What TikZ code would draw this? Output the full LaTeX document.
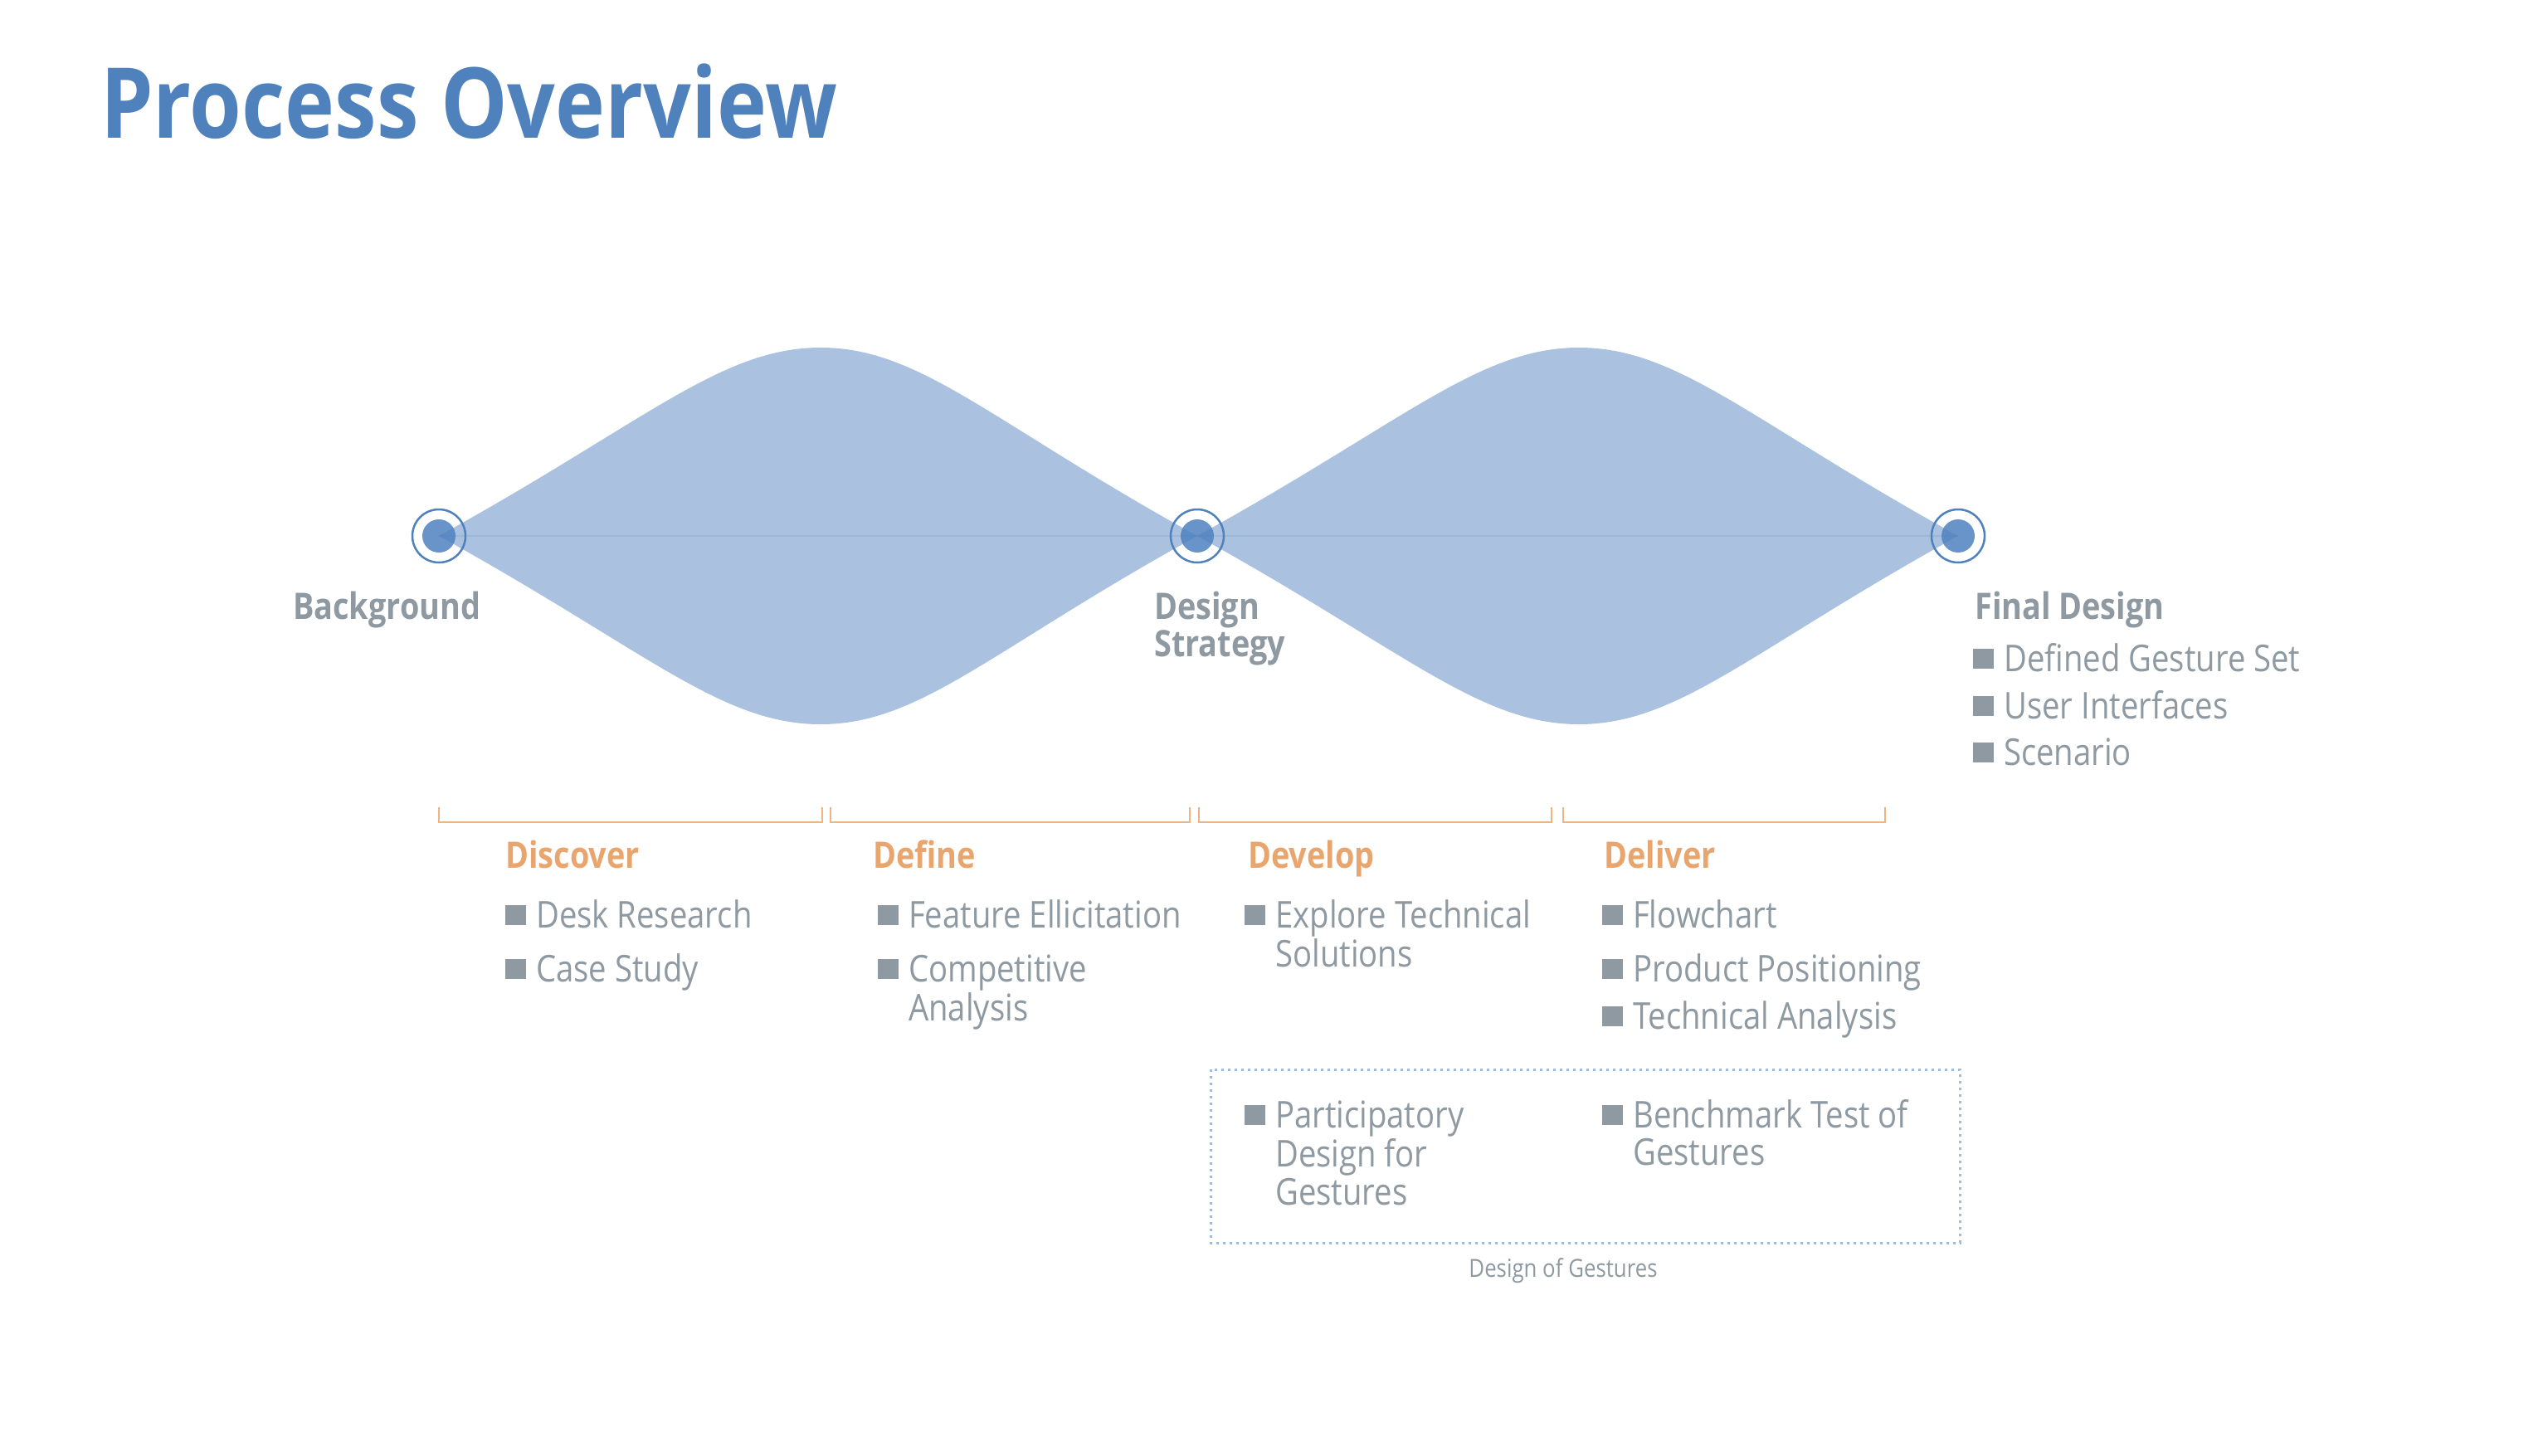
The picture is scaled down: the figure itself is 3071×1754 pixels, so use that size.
\documentclass[tikz,border=0pt]{standalone}
\usepackage{fontspec}
\setmainfont{Open Sans}[FakeStretch=0.86]
\definecolor{titleblue}{RGB}{79,129,189}
\definecolor{lensblue}{RGB}{79,129,189}
\definecolor{dotblue}{RGB}{104,148,201}
\definecolor{txtgray}{RGB}{142,153,161}
\definecolor{phaseorange}{RGB}{232,166,110}
\definecolor{bracketorange}{RGB}{238,180,130}
\definecolor{dotline}{RGB}{160,188,220}
\newcommand\sqbullet{\llap{\textcolor{txtgray}{\rule[0.06em]{0.55em}{0.55em}}\hspace{0.28em}}}
\newcommand\stack[1]{\begin{tabular}[t]{@{}l@{}}#1\end{tabular}}
\tikzset{
  ring/.style={circle, draw=titleblue, line width=2.5pt, minimum size=64pt, inner sep=0pt},
  dot/.style={circle, fill=dotblue, minimum size=40pt, inner sep=0pt},
  lens/.style={fill=lensblue, fill opacity=0.48},
  stagelabel/.style={anchor=base west, inner sep=0pt, text=txtgray, font=\fontsize{44}{45}\selectfont\bfseries},
  phase/.style={anchor=base west, inner sep=0pt, text=phaseorange, font=\fontsize{44}{45}\selectfont\bfseries},
  item/.style={anchor=base west, inner sep=0pt, text=txtgray, font=\fontsize{44.5}{45}\selectfont},
  bracket/.style={draw=bracketorange, line width=2.5pt},
}
\begin{document}
\begin{tikzpicture}[x=1pt,y=-1pt]
\useasboundingbox[fill=white] (0,0) rectangle (3071,1754);

% title
\node[anchor=base west, inner sep=0pt, text=titleblue, font=\fontsize{118}{120}\selectfont\bfseries] (title) at (121,166) {Process Overview};

% milestone markers
\foreach \n/\x in {m1/529, m2/1443, m3/2360}{
  \node[ring] (\n) at (\x,646) {};
  \node[dot] (\n d) at (\x,646) {};
}

% double diamond
\fill[lens] (m1.center) .. controls (779,508) and (869,419) .. (989,419)
  .. controls (1109,419) and (1193,508) .. (m2.center)
  .. controls (1193,784) and (1109,873) .. (989,873)
  .. controls (869,873) and (779,784) .. (m1.center) -- cycle;
\fill[lens] (m2.center) .. controls (1693,508) and (1783,419) .. (1903,419)
  .. controls (2023,419) and (2110,508) .. (m3.center)
  .. controls (2110,784) and (2023,873) .. (1903,873)
  .. controls (1783,873) and (1693,784) .. (m2.center) -- cycle;
\draw[lensblue, opacity=0.15, line width=1.5pt] (m1.center) -- (m2.center) -- (m3.center);

% milestone labels
\node[stagelabel] (bg) at (353,746) {Background};
\node[stagelabel] (ds) at (1391,746) {\stack{Design\\Strategy}};
\node[stagelabel] (fd) at (2380,746) {Final Design};
\node[item] (fd1) at (2415,809) {\sqbullet Defined Gesture Set};
\node[item] (fd2) at (2415,866) {\sqbullet User Interfaces};
\node[item] (fd3) at (2415,922) {\sqbullet Scenario};

% phase brackets
\foreach \a/\b in {529/991, 1001/1434, 1445/1870, 1884/2272}{
  \draw[bracket] (\a,973) -- (\a,991) -- (\b,991) -- (\b,973);
}

% phases
\node[phase] (disc) at (609,1046) {Discover};
\node[phase] (defi) at (1052,1046) {Define};
\node[phase] (deve) at (1504,1046) {Develop};
\node[phase] (deli) at (1933,1046) {Deliver};

\node[item] (dr) at (646,1118) {\sqbullet Desk Research};
\node[item] (cs) at (646,1183) {\sqbullet Case Study};
\node[item] (fe) at (1095,1118) {\sqbullet Feature Ellicitation};
\node[item] (ca) at (1095,1183) {\sqbullet\stack{Competitive\\Analysis}};
\node[item] (et) at (1537,1118) {\sqbullet\stack{Explore Technical\\Solutions}};
\node[item] (fc) at (1968,1118) {\sqbullet Flowchart};
\node[item] (pp) at (1968,1183) {\sqbullet Product Positioning};
\node[item] (ta) at (1968,1240) {\sqbullet Technical Analysis};

% gesture design group
\draw[dotline, line width=3pt, dash pattern=on 3pt off 5pt] (1459,1289) rectangle (2362,1498);
\node[item] (pd) at (1537,1359) {\sqbullet\stack{Participatory\\Design for\\Gestures}};
\node[item] (bt) at (1968,1359) {\sqbullet\stack{Benchmark Test of\\Gestures}};
\node[anchor=base, inner sep=0pt, text=txtgray, font=\fontsize{30}{32}\selectfont] (dg) at (1884,1539) {Design of Gestures};
\end{tikzpicture}
\end{document}
